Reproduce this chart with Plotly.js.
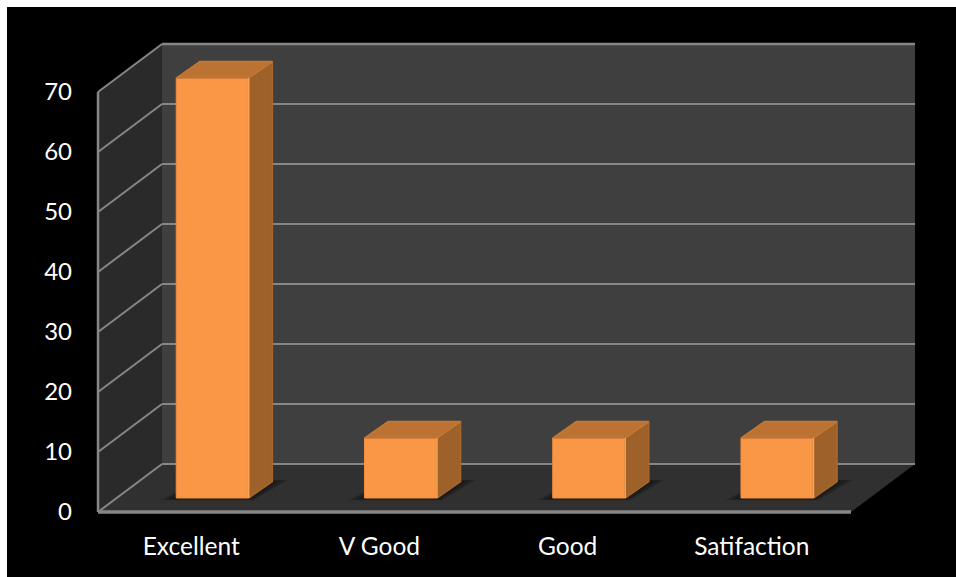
<!DOCTYPE html>
<html>
<head>
<meta charset="utf-8">
<script src="https://cdn.plot.ly/plotly-3.0.1.min.js"></script>
<style>
html,body{margin:0;padding:0;background:#fff;overflow:hidden}
#chart{position:absolute;left:7px;top:7px;width:949px;height:570px}
</style>
</head>
<body>
<div id="chart"></div>
<script>
const categories = ["Excellent", "V Good", "Good", "Satifaction"];
const values = [70, 10, 10, 10];
const yTicks = [0, 10, 20, 30, 40, 50, 60, 70];
const labelPositions = [-0.005, 0.995, 1.995, 2.973];

const depthX = 0.34, depthY = 8;          // wall depth in axis units
const barOffset = 0.108, barWidth = 0.385, barBase = 2.33;
const barDepthX = 0.1255, barDepthY = 2.75;
const xMin = -0.5, xFront = 3.5, xMax = 3.84;

const poly = (pts, fill, opacity) => ({
  type: "path", layer: "below", xref: "x", yref: "y",
  path: "M" + pts.map(p => p.join(",")).join("L") + "Z",
  fillcolor: fill, opacity: opacity === undefined ? 1 : opacity, line: {width: 0}
});
const seg = (x0, y0, x1, y1, color, width) => ({
  type: "line", layer: "below", xref: "x", yref: "y",
  x0, y0, x1, y1, line: {color, width}
});

const top70 = yTicks[yTicks.length - 1];
const shapes = [
  poly([[xMin, 0], [xMin + depthX, depthY], [xMin + depthX, depthY + top70], [xMin, top70]], "#2a2a2a"),
  poly([[xMin + depthX, depthY], [xMax, depthY], [xMax, depthY + top70], [xMin + depthX, depthY + top70]], "#3f3f3f"),
  poly([[xMin, 0], [xFront, 0], [xMax, depthY], [xMin + depthX, depthY]], "#303030")
];
yTicks.forEach(t => {
  shapes.push(seg(xMin, t, xMin + depthX, t + depthY, "#868686", 2));
  shapes.push(seg(xMin + depthX, t + depthY, xMax, t + depthY, "#868686", t === top70 ? 2.5 : 2));
});
shapes.push(seg(xMin, 0, xMin, top70, "#868686", 2.5));
shapes.push(seg(xMin, 0, xFront, 0, "#868686", 3.5));

// soft floor shadows behind each bar
categories.forEach((c, i) => {
  const l = i + barOffset - barWidth / 2, r = l + barWidth;
  [0.085, 0.07, 0.055, 0.04, 0.025, 0.012].forEach(g => {
    shapes.push(poly([
      [l - g, barBase - 0.1 - g * 3], [r + g * 0.3, barBase - 0.1 - g * 3],
      [r + barDepthX + g, barBase + barDepthY + g * 3],
      [l + barDepthX, barBase + barDepthY + g * 3]
    ], "#141414", 0.24));
  });
});

const traces = [];
categories.forEach((c, i) => {
  const l = i + barOffset - barWidth / 2, r = l + barWidth, v = values[i];
  traces.push({
    type: "scatter", mode: "lines", hoverinfo: "skip", showlegend: false,
    x: [r, r + barDepthX, r + barDepthX, r, r],
    y: [barBase, barBase + barDepthY, v + barBase + barDepthY, v + barBase, barBase],
    fill: "toself", fillcolor: "#9e6129", line: {color: "#a8672c", width: 1.5}
  });
  traces.push({
    type: "scatter", mode: "lines", hoverinfo: "skip", showlegend: false,
    x: [l, r, r + barDepthX, l + barDepthX, l],
    y: [v + barBase, v + barBase, v + barBase + barDepthY, v + barBase + barDepthY, v + barBase],
    fill: "toself", fillcolor: "#bc7232", line: {color: "#c47835", width: 1.5}
  });
});
traces.unshift({
  type: "bar", hoverinfo: "skip", showlegend: false,
  x: categories.map((c, i) => i + barOffset),
  y: values, base: barBase, width: barWidth,
  marker: {color: "#fa9746", line: {color: "#f08e3e", width: 1}}
});
// highlight on the right edge of each bar's front face
categories.forEach((c, i) => {
  const r = i + barOffset + barWidth / 2, v = values[i];
  traces.push({
    type: "scatter", mode: "lines", hoverinfo: "skip", showlegend: false,
    x: [r, r], y: [barBase, v + barBase],
    line: {color: "#ffa24f", width: 1.5}
  });
});

const tickFont = {family: "Lato, 'Open Sans', sans-serif", size: 24, color: "#ffffff"};
const layout = {
  width: 949, height: 570,
  margin: {l: 88, r: 41, t: 34, b: 62, pad: 0},
  paper_bgcolor: "#000000", plot_bgcolor: "rgba(0,0,0,0)",
  showlegend: false, bargap: 0,
  xaxis: {
    range: [-0.516, xMax], tickmode: "array",
    tickvals: labelPositions, ticktext: categories,
    showgrid: false, zeroline: false, showline: false, ticks: "",
    tickfont: Object.assign({}, tickFont, {size: 24.5}), ticklabelstandoff: 14, fixedrange: true
  },
  yaxis: {
    range: [-0.5, 78.5], tickmode: "array",
    tickvals: yTicks, ticktext: yTicks.map(String),
    showgrid: false, zeroline: false, showline: false, ticks: "",
    tickfont: tickFont, ticklabelstandoff: 22, fixedrange: true
  },
  shapes
};
Plotly.newPlot("chart", traces, layout, {displayModeBar: false, staticPlot: true});
</script>
</body>
</html>
